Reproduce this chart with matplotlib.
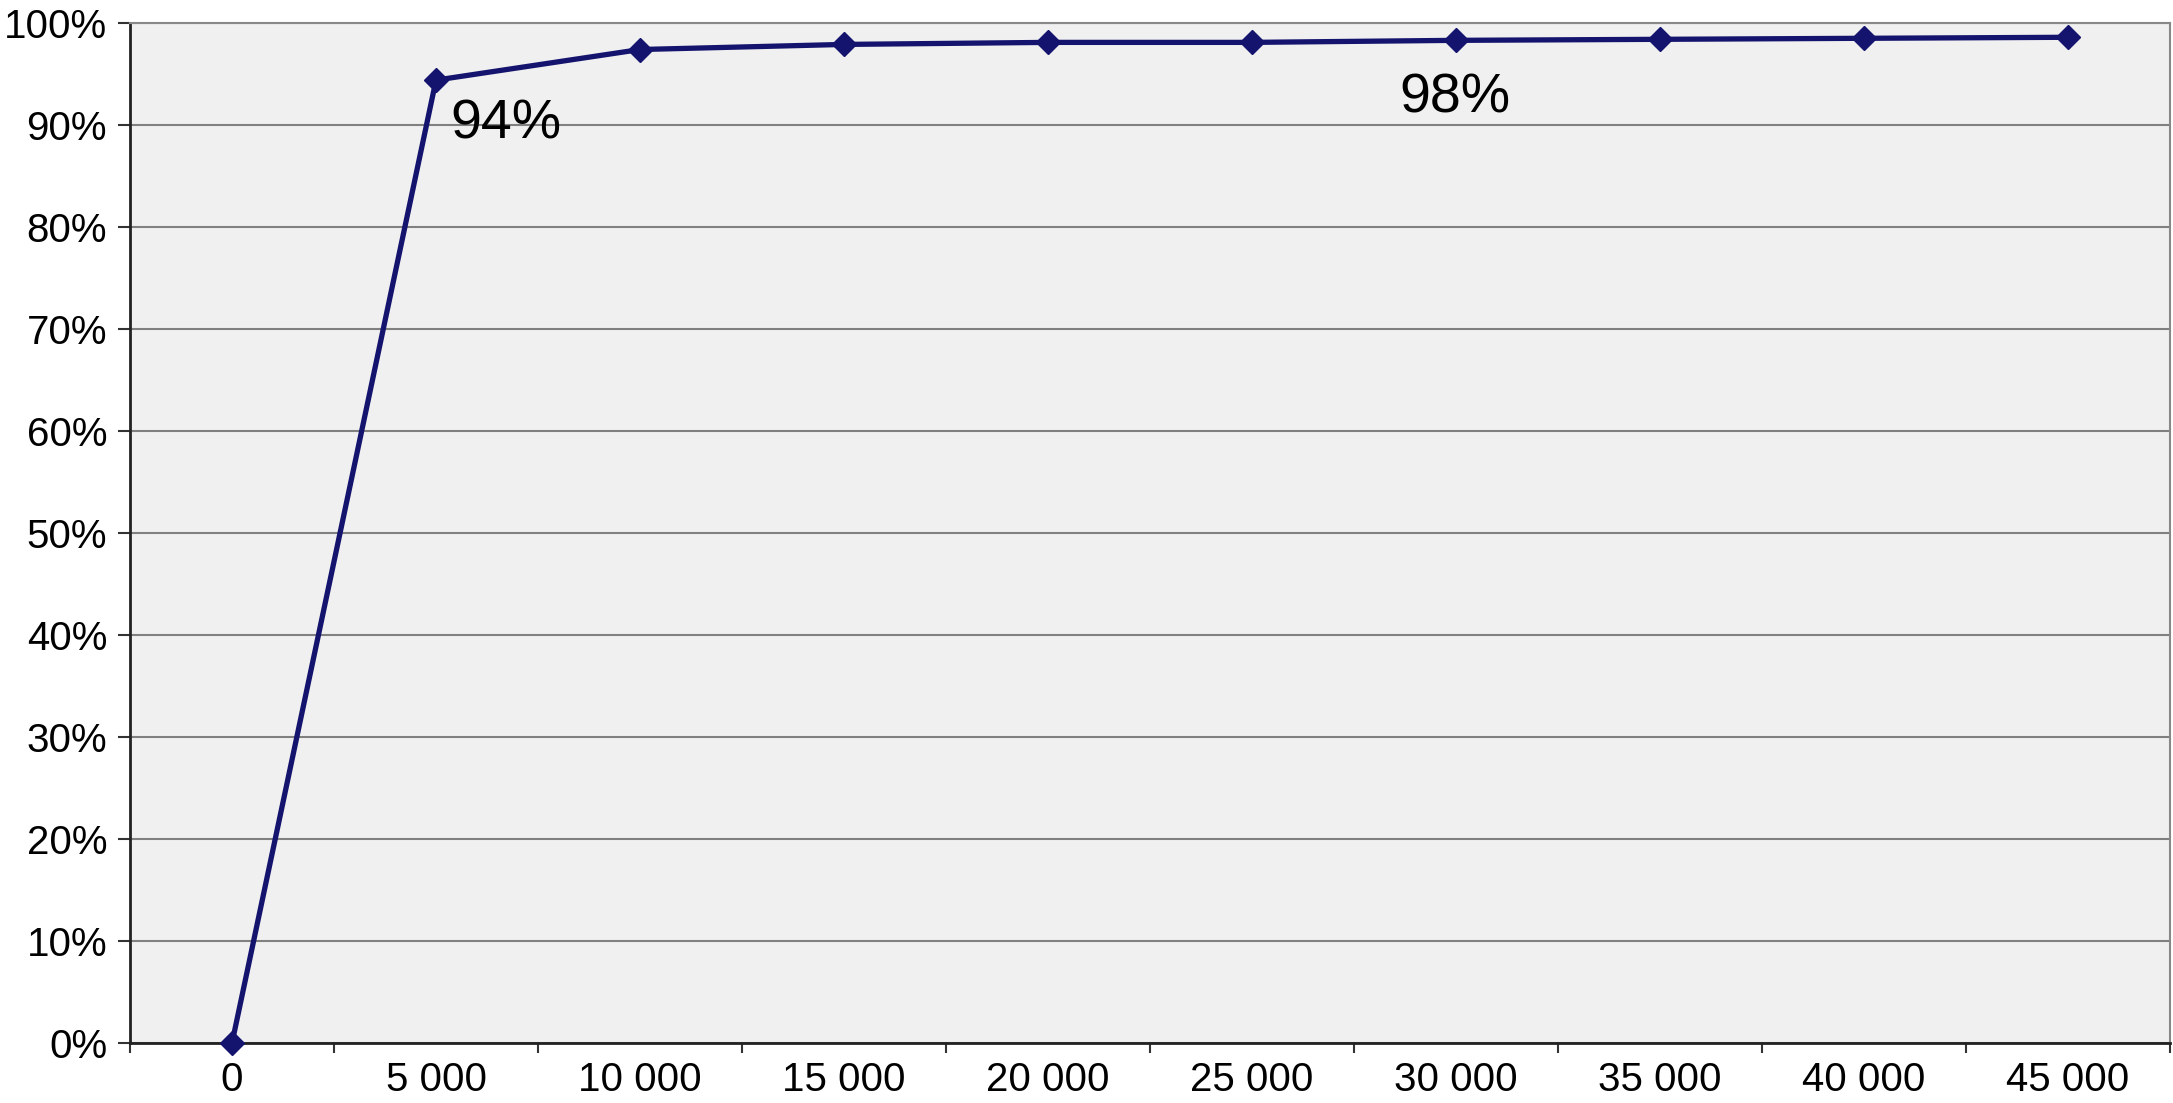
import numpy as np
import matplotlib.pyplot as plt

plt.rcParams['font.family'] = ['Liberation Sans', 'DejaVu Sans']

categories = ['0', '5 000', '10 000', '15 000', '20 000', '25 000',
              '30 000', '35 000', '40 000', '45 000']
values = [0, 94.4, 97.4, 97.9, 98.1, 98.1, 98.3, 98.4, 98.5, 98.6]
y_ticks = list(range(0, 101, 10))
y_labels = [f'{v}%' for v in y_ticks]

fig = plt.figure(figsize=(21.73, 11.03), dpi=100)
ax = fig.add_axes([130 / 2173, 1 - 1043 / 1103, 2040 / 2173, 1020 / 1103])
ax.set_facecolor('#f0f0f0')

x = np.arange(len(categories))
ax.plot(x, values, color='#14146e', lw=3.8, marker='D', markersize=12,
        zorder=3, clip_on=False)

ax.set_xlim(-0.5, len(categories) - 0.5)
ax.set_ylim(0, 100)
ax.set_yticks(y_ticks)
ax.set_yticklabels(y_labels)
ax.set_xticks(x)
ax.set_xticklabels(categories)
ax.set_xticks(np.arange(-0.5, len(categories)), minor=True)
ax.tick_params(axis='x', which='major', length=0, pad=13, labelsize=29)
ax.tick_params(axis='x', which='minor', length=7, width=1.5, color='#333333')
ax.tick_params(axis='y', length=8.5, width=1.5, pad=8, labelsize=29, color='#333333')

ax.grid(axis='y', color='#808080', lw=1.5, zorder=1)
ax.set_axisbelow(True)
for side in ['left', 'bottom']:
    ax.spines[side].set_color('#222222')
    ax.spines[side].set_linewidth(2)
for side in ['top', 'right']:
    ax.spines[side].set_color('#888888')
    ax.spines[side].set_linewidth(1.5)

ax.annotate('94%', xy=(1, values[1]), xytext=(10, -42), textcoords='offset points',
            ha='left', va='baseline', fontsize=40)
ax.annotate('98%', xy=(6, values[6]), xytext=(-1, -52), textcoords='offset points',
            ha='center', va='baseline', fontsize=40)

fig.savefig('out.png', dpi=100)
